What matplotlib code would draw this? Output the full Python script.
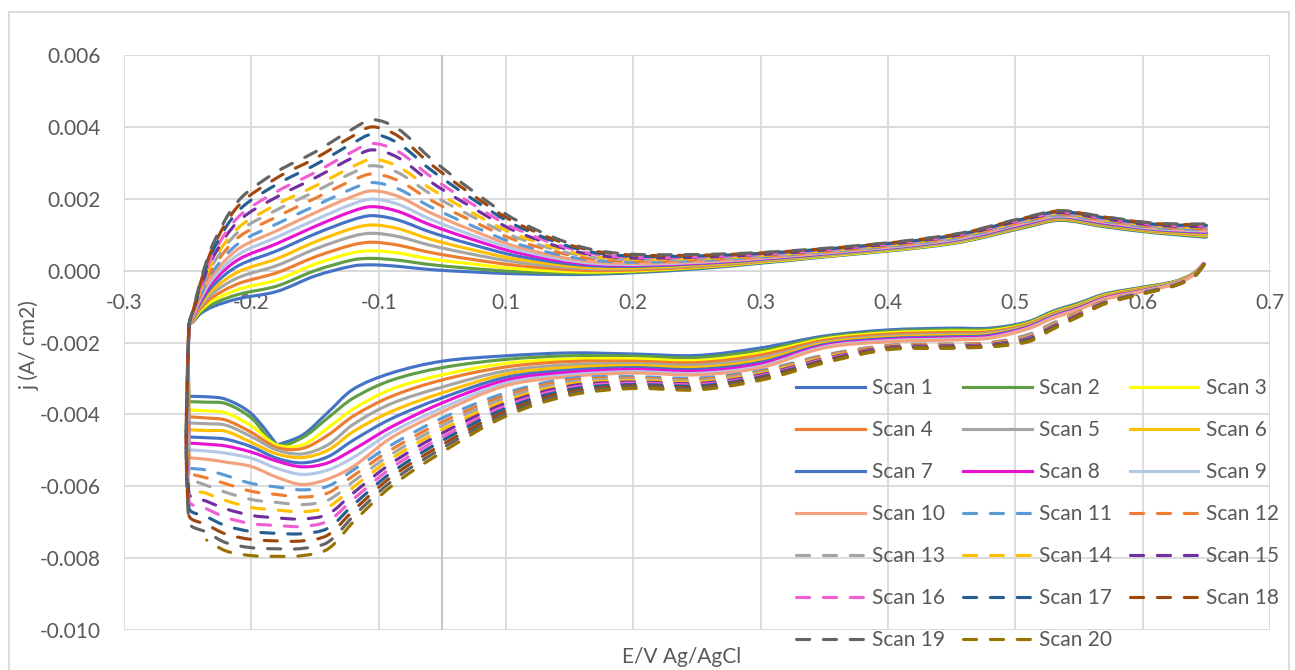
import numpy as np
import matplotlib.pyplot as plt
from matplotlib.patches import Rectangle, PathPatch
from matplotlib.path import Path
from matplotlib.lines import Line2D

# --------------------------
# DATA  (j in mA/cm2, drawn in A/cm2)
# --------------------------
scan_names = ["Scan %d" % i for i in range(1, 21)]
scan_colors = [
    "#4472C4", "#5F9E45", "#FFFF00", "#ED7D31", "#A5A5A5",
    "#FFC000", "#4472C4", "#E812D2", "#B4C7E7", "#F4A27E",
    "#5B9BD5", "#ED7D31", "#A5A5A5", "#FFC000", "#7030A0",
    "#EF5FD3", "#255E91", "#9E480E", "#636363", "#997300",
]
scan_dashed = [False] * 10 + [True] * 10

# cathodic sweep, 0.6 V -> -0.2 V
lower_x = [0.598, 0.59, 0.575, 0.55, 0.52, 0.50, 0.48, 0.46, 0.43, 0.40, 0.35,
           0.30, 0.25, 0.20, 0.15, 0.10, 0.05, 0.0, -0.04, -0.07, -0.09,
           -0.11, -0.13, -0.15, -0.17, -0.185, -0.199]
lower_j = [
    [0.20, -0.07, -0.30, -0.46, -0.65, -0.90, -1.12, -1.42, -1.60, -1.60, -1.65, -1.82, -2.15, -2.36, -2.32, -2.29, -2.37, -2.52, -2.85, -3.30, -3.95, -4.58, -4.85, -3.98, -3.58, -3.51, -3.50],
    [0.20, -0.08, -0.31, -0.47, -0.67, -0.92, -1.14, -1.44, -1.63, -1.64, -1.69, -1.86, -2.22, -2.42, -2.38, -2.37, -2.47, -2.70, -3.05, -3.55, -4.10, -4.65, -4.85, -4.10, -3.70, -3.66, -3.65],
    [0.20, -0.08, -0.32, -0.49, -0.69, -0.95, -1.17, -1.47, -1.67, -1.68, -1.73, -1.90, -2.29, -2.50, -2.45, -2.46, -2.58, -2.90, -3.30, -3.85, -4.38, -4.85, -4.85, -4.32, -3.96, -3.90, -3.88],
    [0.20, -0.09, -0.33, -0.50, -0.71, -0.97, -1.19, -1.49, -1.70, -1.72, -1.77, -1.94, -2.35, -2.56, -2.52, -2.53, -2.68, -3.04, -3.50, -4.05, -4.58, -4.95, -4.92, -4.50, -4.16, -4.10, -4.07],
    [0.20, -0.10, -0.34, -0.52, -0.73, -0.99, -1.22, -1.52, -1.74, -1.77, -1.82, -1.99, -2.43, -2.63, -2.59, -2.62, -2.79, -3.24, -3.70, -4.28, -4.85, -5.10, -4.99, -4.62, -4.30, -4.26, -4.24],
    [0.20, -0.10, -0.35, -0.53, -0.74, -1.01, -1.24, -1.54, -1.77, -1.80, -1.85, -2.02, -2.49, -2.69, -2.64, -2.69, -2.88, -3.40, -3.92, -4.48, -5.00, -5.20, -5.10, -4.78, -4.47, -4.45, -4.43],
    [0.20, -0.11, -0.36, -0.55, -0.76, -1.03, -1.26, -1.56, -1.80, -1.84, -1.89, -2.06, -2.55, -2.75, -2.70, -2.77, -2.97, -3.54, -4.12, -4.72, -5.18, -5.35, -5.22, -4.90, -4.69, -4.65, -4.63],
    [0.20, -0.11, -0.37, -0.56, -0.77, -1.05, -1.28, -1.58, -1.83, -1.87, -1.92, -2.09, -2.60, -2.80, -2.75, -2.83, -3.05, -3.68, -4.35, -4.98, -5.35, -5.46, -5.30, -5.05, -4.88, -4.83, -4.80],
    [0.20, -0.12, -0.37, -0.57, -0.79, -1.07, -1.30, -1.60, -1.86, -1.90, -1.95, -2.12, -2.66, -2.86, -2.81, -2.90, -3.13, -3.82, -4.50, -5.20, -5.55, -5.67, -5.50, -5.22, -5.08, -5.02, -4.99],
    [0.20, -0.12, -0.38, -0.58, -0.80, -1.08, -1.32, -1.62, -1.88, -1.93, -1.98, -2.15, -2.70, -2.90, -2.85, -2.95, -3.20, -3.93, -4.65, -5.45, -5.80, -5.95, -5.75, -5.45, -5.33, -5.25, -5.21],
    [0.18, -0.14, -0.40, -0.60, -0.85, -1.15, -1.45, -1.78, -2.00, -2.04, -2.08, -2.35, -2.78, -2.99, -2.95, -3.00, -3.40, -4.10, -4.85, -5.55, -6.00, -6.10, -6.02, -5.92, -5.70, -5.55, -5.50],
    [0.18, -0.14, -0.40, -0.61, -0.86, -1.16, -1.47, -1.80, -2.01, -2.05, -2.09, -2.37, -2.81, -3.03, -2.99, -3.05, -3.47, -4.21, -4.98, -5.71, -6.19, -6.30, -6.23, -6.14, -5.93, -5.77, -5.65],
    [0.17, -0.15, -0.40, -0.61, -0.87, -1.18, -1.49, -1.82, -2.03, -2.07, -2.11, -2.40, -2.84, -3.06, -3.02, -3.10, -3.54, -4.31, -5.11, -5.87, -6.39, -6.51, -6.45, -6.37, -6.17, -5.98, -5.80],
    [0.17, -0.15, -0.41, -0.62, -0.88, -1.19, -1.51, -1.85, -2.04, -2.08, -2.12, -2.42, -2.87, -3.10, -3.06, -3.16, -3.62, -4.42, -5.23, -6.03, -6.58, -6.71, -6.66, -6.59, -6.40, -6.20, -6.00],
    [0.17, -0.16, -0.41, -0.62, -0.89, -1.21, -1.53, -1.87, -2.05, -2.09, -2.13, -2.45, -2.90, -3.14, -3.10, -3.21, -3.69, -4.52, -5.36, -6.19, -6.78, -6.91, -6.88, -6.81, -6.63, -6.42, -6.20],
    [0.16, -0.16, -0.41, -0.63, -0.89, -1.22, -1.54, -1.89, -2.07, -2.11, -2.15, -2.47, -2.93, -3.17, -3.13, -3.26, -3.76, -4.63, -5.49, -6.36, -6.97, -7.12, -7.09, -7.04, -6.87, -6.63, -6.40],
    [0.16, -0.17, -0.41, -0.63, -0.90, -1.24, -1.56, -1.91, -2.08, -2.12, -2.16, -2.50, -2.96, -3.21, -3.17, -3.31, -3.83, -4.73, -5.62, -6.52, -7.17, -7.32, -7.31, -7.26, -7.10, -6.85, -6.60],
    [0.16, -0.17, -0.42, -0.64, -0.91, -1.25, -1.58, -1.94, -2.09, -2.13, -2.17, -2.52, -2.99, -3.25, -3.21, -3.37, -3.91, -4.84, -5.74, -6.68, -7.36, -7.52, -7.52, -7.48, -7.33, -7.07, -6.80],
    [0.15, -0.18, -0.42, -0.64, -0.92, -1.27, -1.60, -1.96, -2.11, -2.15, -2.19, -2.55, -3.02, -3.28, -3.24, -3.42, -3.98, -4.94, -5.87, -6.84, -7.56, -7.73, -7.74, -7.71, -7.57, -7.28, -7.00],
    [0.15, -0.18, -0.42, -0.65, -0.93, -1.28, -1.62, -1.98, -2.12, -2.16, -2.20, -2.57, -3.05, -3.32, -3.28, -3.47, -4.05, -5.05, -6.00, -7.00, -7.75, -7.93, -7.95, -7.93, -7.80, -7.50],
]

# anodic sweep, -0.2 V -> 0.6 V (scan 20 ends after its cathodic sweep)
upper_x = [-0.199, -0.195, -0.19, -0.18, -0.16, -0.13, -0.10, -0.07, -0.055, -0.035,
           -0.01, 0.02, 0.06, 0.12, 0.20, 0.30, 0.40, 0.46, 0.485, 0.52, 0.56, 0.60]
upper_j = [
    [-1.55, -1.40, -1.20, -1.00, -0.78, -0.58, -0.15, 0.13, 0.16, 0.12, 0.03, -0.03, -0.09, -0.10, 0.05, 0.38, 0.75, 1.22, 1.40, 1.22, 1.05, 0.93],
    [-1.55, -1.38, -1.16, -0.92, -0.66, -0.43, 0.00, 0.30, 0.34, 0.29, 0.17, 0.07, -0.03, -0.07, 0.07, 0.39, 0.76, 1.23, 1.41, 1.23, 1.06, 0.95],
    [-1.55, -1.36, -1.11, -0.83, -0.52, -0.26, 0.18, 0.50, 0.55, 0.49, 0.33, 0.20, 0.05, -0.04, 0.09, 0.40, 0.77, 1.25, 1.43, 1.25, 1.08, 0.97],
    [-1.55, -1.34, -1.06, -0.73, -0.36, -0.06, 0.38, 0.72, 0.79, 0.71, 0.51, 0.33, 0.14, 0.00, 0.11, 0.42, 0.79, 1.26, 1.44, 1.26, 1.09, 0.99],
    [-1.55, -1.31, -1.00, -0.62, -0.19, 0.14, 0.60, 0.96, 1.04, 0.95, 0.71, 0.48, 0.23, 0.05, 0.14, 0.43, 0.80, 1.28, 1.46, 1.28, 1.11, 1.01],
    [-1.55, -1.29, -0.95, -0.52, -0.03, 0.33, 0.80, 1.18, 1.27, 1.17, 0.88, 0.61, 0.31, 0.08, 0.16, 0.45, 0.82, 1.30, 1.47, 1.30, 1.12, 1.03],
    [-1.55, -1.26, -0.90, -0.41, 0.14, 0.55, 1.02, 1.42, 1.53, 1.41, 1.08, 0.76, 0.40, 0.13, 0.19, 0.46, 0.83, 1.31, 1.49, 1.31, 1.14, 1.06],
    [-1.55, -1.24, -0.84, -0.30, 0.31, 0.75, 1.23, 1.66, 1.78, 1.65, 1.28, 0.91, 0.49, 0.17, 0.21, 0.48, 0.85, 1.33, 1.51, 1.33, 1.16, 1.08],
    [-1.55, -1.22, -0.79, -0.21, 0.45, 0.93, 1.41, 1.86, 1.99, 1.85, 1.44, 1.03, 0.57, 0.20, 0.23, 0.49, 0.86, 1.35, 1.52, 1.35, 1.17, 1.10],
    [-1.55, -1.20, -0.74, -0.11, 0.61, 1.11, 1.61, 2.07, 2.22, 2.07, 1.62, 1.17, 0.65, 0.24, 0.25, 0.50, 0.88, 1.36, 1.54, 1.36, 1.19, 1.12],
    [-1.55, -1.17, -0.69, -0.01, 0.76, 1.30, 1.80, 2.29, 2.45, 2.28, 1.79, 1.30, 0.73, 0.28, 0.28, 0.52, 0.89, 1.38, 1.55, 1.38, 1.20, 1.14],
    [-1.55, -1.15, -0.64, 0.09, 0.93, 1.50, 2.01, 2.52, 2.69, 2.51, 1.98, 1.44, 0.82, 0.32, 0.30, 0.53, 0.91, 1.40, 1.57, 1.40, 1.22, 1.16],
    [-1.55, -1.13, -0.59, 0.19, 1.08, 1.69, 2.20, 2.73, 2.92, 2.73, 2.15, 1.57, 0.90, 0.36, 0.32, 0.54, 0.92, 1.41, 1.58, 1.41, 1.23, 1.18],
    [-1.55, -1.11, -0.55, 0.27, 1.20, 1.84, 2.35, 2.90, 3.10, 2.90, 2.30, 1.68, 0.97, 0.39, 0.34, 0.55, 0.93, 1.42, 1.60, 1.42, 1.25, 1.20],
    [-1.55, -1.08, -0.49, 0.38, 1.38, 2.05, 2.58, 3.15, 3.36, 3.15, 2.49, 1.83, 1.06, 0.43, 0.37, 0.57, 0.95, 1.44, 1.61, 1.44, 1.26, 1.22],
    [-1.55, -1.07, -0.45, 0.46, 1.50, 2.20, 2.73, 3.32, 3.54, 3.32, 2.64, 1.93, 1.13, 0.46, 0.38, 0.58, 0.96, 1.45, 1.63, 1.45, 1.28, 1.24],
    [-1.55, -1.04, -0.39, 0.57, 1.67, 2.40, 2.94, 3.55, 3.79, 3.55, 2.83, 2.08, 1.22, 0.50, 0.41, 0.60, 0.97, 1.47, 1.64, 1.47, 1.29, 1.26],
    [-1.55, -1.02, -0.35, 0.66, 1.81, 2.58, 3.12, 3.75, 4.00, 3.75, 2.99, 2.20, 1.29, 0.54, 0.43, 0.61, 0.99, 1.49, 1.66, 1.49, 1.31, 1.28],
    [-1.55, -1.00, -0.30, 0.75, 1.95, 2.75, 3.30, 3.95, 4.20, 3.95, 3.15, 2.32, 1.37, 0.57, 0.45, 0.62, 1.00, 1.50, 1.67, 1.50, 1.32, 1.30],
]

# axis ticks (Excel labels the -0.25..0.65 gridlines with one decimal)
xtick_pos = [-0.25, -0.15, -0.05, 0.05, 0.15, 0.25, 0.35, 0.45, 0.55, 0.65]
xtick_labels = ["-0.3", "-0.2", "-0.1", "0.1", "0.2", "0.3", "0.4", "0.5", "0.6", "0.7"]
ytick_pos = [-0.010, -0.008, -0.006, -0.004, -0.002, 0.000, 0.002, 0.004, 0.006]


# --------------------------
# SMOOTHED LINE (Excel style "smoothed line" through the points)
# --------------------------
def smooth_path(ax, xs, ys):
    pts = np.column_stack([xs, ys])
    disp = ax.transData.transform(pts)
    n = len(pts)
    seg = np.hypot(*np.diff(disp, axis=0).T)
    tang = np.zeros_like(pts)
    for i in range(n):
        if i == 0 or i == n - 1:
            continue
        a = disp[i] - disp[i - 1]
        b = disp[i + 1] - disp[i]
        cosang = np.dot(a, b) / (np.linalg.norm(a) * np.linalg.norm(b) + 1e-9)
        if cosang < 0.35:  # sharp corner: keep it sharp
            continue
        tang[i] = (pts[i + 1] - pts[i - 1]) / (seg[i - 1] + seg[i])
    verts = [pts[0]]
    codes = [Path.MOVETO]
    for i in range(n - 1):
        c1 = pts[i] + tang[i] * seg[i] / 3
        c2 = pts[i + 1] - tang[i + 1] * seg[i] / 3
        verts += [c1, c2, pts[i + 1]]
        codes += [Path.CURVE4] * 3
    return Path(verts, codes)


# --------------------------
# PLOT
# --------------------------
plt.rcParams['font.family'] = ['Lato', 'DejaVu Sans']
text_color = "#595959"
grid_color = "#D9D9D9"

fig = plt.figure(figsize=(12.95, 6.70), dpi=100)
ax = fig.add_axes([124 / 1295, 1 - 630 / 670, (1270 - 124) / 1295, (630 - 55) / 670])
ax.set_xlim(-0.25, 0.65)
ax.set_ylim(-0.010, 0.006)

handles = []
for i in range(20):
    x = list(lower_x[:len(lower_j[i])])
    y = list(lower_j[i])
    if i < len(upper_j):
        x += upper_x
        y += upper_j[i]
    y = np.array(y) * 1e-3
    ls = (0, (4.2, 4.4)) if scan_dashed[i] else '-'
    patch = PathPatch(smooth_path(ax, x, y), fill=False, ec=scan_colors[i], lw=2.25,
                      linestyle=ls, capstyle='round', joinstyle='round', zorder=3)
    ax.add_patch(patch)
    handles.append(Line2D([], [], color=scan_colors[i], lw=2.25, linestyle=ls,
                          dash_capstyle='round', label=scan_names[i]))

ax.set_xticks(xtick_pos)
ax.set_xticklabels(xtick_labels)
ax.set_yticks(ytick_pos)
ax.set_yticklabels(["%.3f" % v for v in ytick_pos])

ax.grid(True, color=grid_color, lw=1.3)
ax.set_axisbelow(True)
for s in ['top', 'right', 'left']:
    ax.spines[s].set_visible(False)
ax.spines['bottom'].set_position(('data', 0))
ax.spines['bottom'].set_color(grid_color)
ax.spines['bottom'].set_linewidth(1.3)
ax.axvline(0, color="#BFBFBF", lw=1.3, zorder=1)

ax.tick_params(axis='both', length=0, labelsize=15, colors=text_color)
ax.tick_params(axis='x', pad=16)
ax.tick_params(axis='y', pad=17)

fig.text(0.023, 0.485, "j (A/ cm2)", rotation=90, ha='center', va='center',
         fontsize=15, color=text_color)
fig.text(0.526, 0.019, "E/V Ag/AgCl", ha='center', va='center',
         fontsize=15, color=text_color)

# legend: 3 columns filled row by row
order = [0, 3, 6, 9, 12, 15, 18, 1, 4, 7, 10, 13, 16, 19, 2, 5, 8, 11, 14, 17]
leg = fig.legend([handles[k] for k in order], [scan_names[k] for k in order],
                 ncol=3, loc='upper left', bbox_to_anchor=(796 / 1295, 1 - 378 / 670),
                 frameon=False, fontsize=15, handlelength=3.3, handletextpad=0.35,
                 labelspacing=1.06, columnspacing=0.85, borderpad=0, borderaxespad=0)
for t in leg.get_texts():
    t.set_color(text_color)

# outer chart border
fig.add_artist(Rectangle((9 / 1295, -0.05), (1289 - 9) / 1295, 1.05 - 12 / 670,
                         transform=fig.transFigure, fill=False, ec=grid_color, lw=1.3))

fig.savefig("out.png", dpi=100)
